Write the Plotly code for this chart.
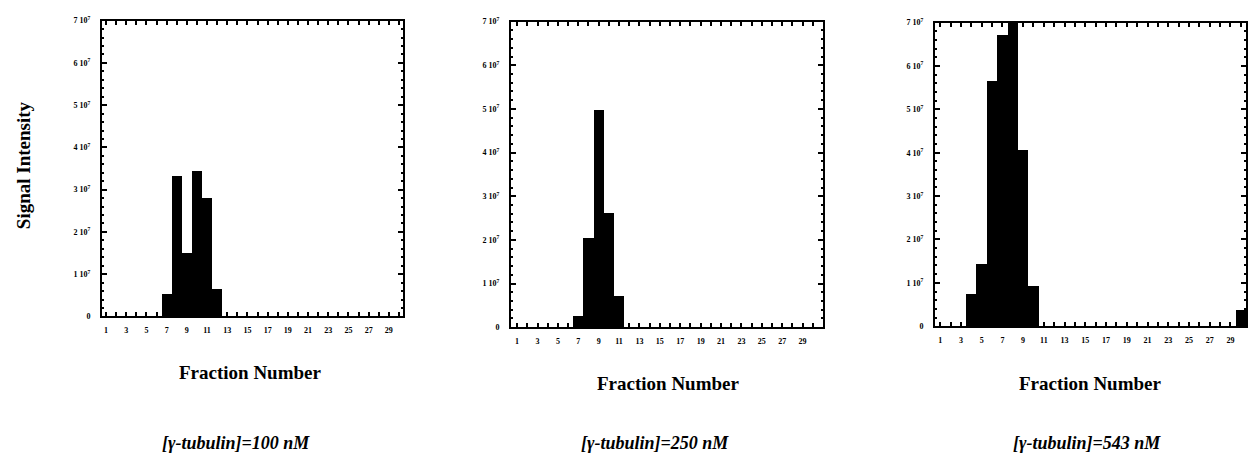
import plotly.graph_objects as go

# ---- data (signal intensity per fraction) ----
fractions_100 = [7, 8, 9, 10, 11, 12]
signal_100 = [0.53e7, 3.33e7, 1.51e7, 3.45e7, 2.81e7, 0.67e7]

fractions_250 = [7, 8, 9, 10, 11]
signal_250 = [0.27e7, 2.05e7, 4.98e7, 2.62e7, 0.72e7]

fractions_543 = [4, 5, 6, 7, 8, 9, 10, 30]
signal_543 = [0.75e7, 1.45e7, 5.67e7, 6.73e7, 7.05e7, 4.08e7, 0.93e7, 0.39e7]

x_tick_values = [1, 3, 5, 7, 9, 11, 13, 15, 17, 19, 21, 23, 25, 27, 29]
x_tick_labels = ["1", "3", "5", "7", "9", "11", "13", "15", "17", "19", "21", "23", "25", "27", "29"]
y_tick_values = [0, 1e7, 2e7, 3e7, 4e7, 5e7, 6e7, 7e7]
y_tick_labels = ["0", "1 10<sup>7</sup>", "2 10<sup>7</sup>", "3 10<sup>7</sup>",
                 "4 10<sup>7</sup>", "5 10<sup>7</sup>", "6 10<sup>7</sup>", "7 10<sup>7</sup>"]

panel_titles = ["[γ-tubulin]=100 nM", "[γ-tubulin]=250 nM", "[γ-tubulin]=543 nM"]
x_title = "Fraction Number"
y_title = "Signal Intensity"

W, H = 1257, 464
SERIF = "Liberation Serif"

def px_x(p):
    return p / W

def px_y(p):
    return 1 - p / H

panels = [
    dict(x=fractions_100, y=signal_100, dom=(102, 403, 15, 318), xr=[0.6, 30.4]),
    dict(x=fractions_250, y=signal_250, dom=(511, 823, 16, 329), xr=[0.4, 31.0]),
    dict(x=fractions_543, y=signal_543, dom=(935, 1246, 17, 328), xr=[0.5, 30.5]),
]

fig = go.Figure()
layout = dict(width=W, height=H, margin=dict(l=0, r=0, t=0, b=0),
              paper_bgcolor="white", plot_bgcolor="white", showlegend=False,
              bargap=0, font=dict(family=SERIF, color="black"))

tickfont = dict(family=SERIF, size=8, color="black", weight="bold")

for i, p in enumerate(panels, start=1):
    sfx = "" if i == 1 else str(i)
    fig.add_trace(go.Bar(x=p["x"], y=p["y"], marker=dict(color="black", line=dict(width=0)),
                         xaxis="x" + sfx, yaxis="y" + sfx, width=1.0))
    l, r, t, b = p["dom"]
    layout["xaxis" + sfx] = dict(
        domain=[px_x(l), px_x(r)], anchor="y" + sfx, range=p["xr"],
        tickmode="array", tickvals=x_tick_values, ticktext=x_tick_labels,
        ticks="inside", ticklen=4, tickwidth=1.5, tickcolor="black",
        minor=dict(dtick=1, tick0=0, ticks="inside", ticklen=4, tickwidth=1.5, tickcolor="black"),
        showline=True, linecolor="black", linewidth=2, mirror="ticks",
        showgrid=False, zeroline=False, tickfont=tickfont, ticklabelstandoff=5,
    )
    layout["yaxis" + sfx] = dict(
        domain=[px_y(b), px_y(t)], anchor="x" + sfx, range=[0, 7e7],
        tickmode="array", tickvals=y_tick_values, ticktext=y_tick_labels,
        ticks="inside", ticklen=5, tickwidth=1.5, tickcolor="black",
        minor=dict(dtick=0.2e7, ticks="inside", ticklen=2, tickwidth=1.5, tickcolor="black"),
        showline=True, linecolor="black", linewidth=2, mirror="ticks",
        showgrid=False, zeroline=False, tickfont=tickfont, ticklabelstandoff=8,
    )

fig.update_layout(**layout)

annotations = []
x_title_pos = [(250, 375), (668, 387), (1090, 387)]
panel_title_pos = [(236, 448), (655, 448), (1087, 448)]
for (ax, ay) in x_title_pos:
    annotations.append(dict(text=x_title, x=px_x(ax), y=px_y(ay), xref="paper", yref="paper",
                            showarrow=False, xanchor="center", yanchor="middle",
                            font=dict(family=SERIF, size=19, color="black", weight="bold")))
for t, (ax, ay) in zip(panel_titles, panel_title_pos):
    annotations.append(dict(text=t, x=px_x(ax), y=px_y(ay), xref="paper", yref="paper",
                            showarrow=False, xanchor="center", yanchor="middle",
                            font=dict(family=SERIF, size=18, color="black", weight="bold", style="italic")))
annotations.append(dict(text=y_title, x=px_x(23), y=px_y(163), xref="paper", yref="paper",
                        showarrow=False, xanchor="center", yanchor="middle", textangle=-90,
                        font=dict(family=SERIF, size=19, color="black", weight="bold")))
fig.update_layout(annotations=annotations)

fig.write_html("out.html")
